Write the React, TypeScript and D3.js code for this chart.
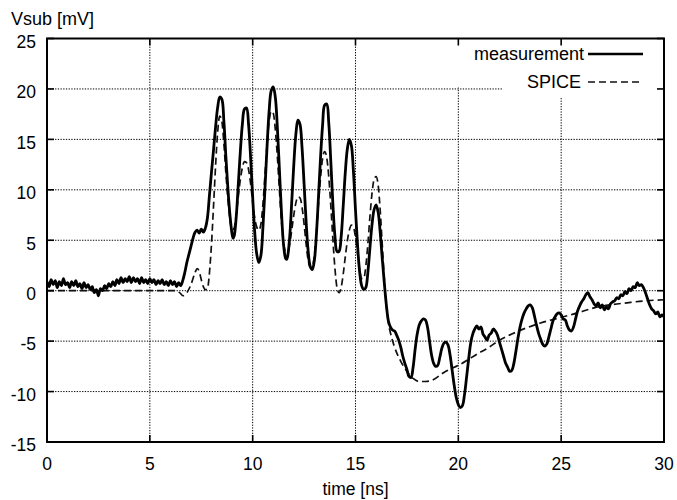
import React from "react";
import * as d3 from "d3";

// measured substrate voltage [time ns, mV]
const measurement: [number, number][] = [
  [0.0, 0.9], [0.1, 0.4], [0.2, 1.1], [0.3, 0.6], [0.4, 1.0], [0.5, 0.3], [0.6, 0.9], [0.7, 0.5], [0.8, 1.2], [0.9, 0.6],
  [1.0, 0.8], [1.1, 0.3], [1.2, 0.9], [1.3, 0.5], [1.4, 1.0], [1.5, 0.4], [1.6, 0.7], [1.7, 0.2], [1.8, 0.8], [1.9, 0.3],
  [2.0, 0.6], [2.1, 0.1], [2.2, 0.4], [2.3, -0.2], [2.4, 0.1], [2.5, -0.5], [2.6, 0.2], [2.7, 0.0], [2.8, 0.5], [2.9, 0.2],
  [3.0, 0.7], [3.1, 0.4], [3.2, 0.9], [3.3, 0.5], [3.4, 1.1], [3.5, 0.7], [3.6, 1.3], [3.7, 0.8], [3.8, 1.2], [3.9, 0.9],
  [4.0, 1.4], [4.1, 0.8], [4.2, 1.3], [4.3, 0.9], [4.4, 1.2], [4.5, 0.7], [4.6, 1.3], [4.7, 0.8], [4.8, 1.1], [4.9, 0.7],
  [5.0, 1.2], [5.1, 0.8], [5.2, 1.1], [5.3, 0.6], [5.4, 1.0], [5.5, 0.7], [5.6, 1.1], [5.7, 0.6], [5.8, 0.9], [5.9, 0.5],
  [6.0, 1.0], [6.1, 0.6], [6.2, 0.9], [6.3, 0.4], [6.4, 0.8], [6.5, 0.5], [6.6, 1.0],
  [6.7, 1.8], [6.8, 2.8], [6.9, 3.6], [7.0, 4.4], [7.1, 5.2], [7.2, 5.8], [7.3, 6.0], [7.4, 5.7], [7.5, 6.1], [7.6, 5.8],
  [7.7, 6.2], [7.8, 7.2], [7.9, 9.5], [8.0, 11.8], [8.1, 14.0], [8.2, 16.3], [8.3, 18.2], [8.4, 19.2], [8.5, 19.0], [8.6, 16.8],
  [8.7, 13.2], [8.8, 10.0], [8.9, 7.4], [9.0, 5.6], [9.05, 5.2], [9.1, 5.4], [9.2, 7.3], [9.3, 10.5], [9.4, 13.8], [9.5, 16.5],
  [9.6, 18.0], [9.7, 18.1], [9.8, 16.5], [9.9, 13.2], [10.0, 9.3], [10.1, 5.8], [10.2, 3.6], [10.3, 2.8], [10.4, 3.5], [10.5, 6.3],
  [10.6, 10.2], [10.7, 14.3], [10.8, 17.8], [10.9, 19.8], [11.0, 20.2], [11.1, 19.2], [11.2, 16.2], [11.3, 12.0], [11.4, 7.8], [11.5, 4.6],
  [11.6, 3.2], [11.65, 3.1], [11.7, 3.4], [11.8, 5.3], [11.9, 8.8], [12.0, 12.5], [12.1, 15.5], [12.2, 16.9], [12.3, 16.5], [12.4, 14.2],
  [12.5, 10.6], [12.6, 6.8], [12.7, 3.9], [12.8, 2.4], [12.9, 2.1], [13.0, 3.0], [13.1, 5.6], [13.2, 9.3], [13.3, 13.2], [13.4, 16.4],
  [13.5, 18.4], [13.6, 18.5], [13.7, 16.6], [13.8, 12.8], [13.9, 8.6], [14.0, 5.4], [14.1, 3.9], [14.2, 3.9], [14.3, 5.3], [14.4, 8.3],
  [14.5, 11.6], [14.6, 14.0], [14.7, 15.0], [14.8, 14.4], [14.9, 11.8], [15.0, 8.0], [15.1, 4.5], [15.2, 1.9], [15.3, 0.5], [15.4, 0.1],
  [15.5, 0.3], [15.6, 1.8], [15.7, 4.2], [15.8, 6.5], [15.9, 8.0], [16.0, 8.5], [16.1, 7.8], [16.2, 5.8], [16.3, 3.2], [16.4, 0.8],
  [16.5, -1.4], [16.6, -3.0], [16.7, -3.6], [16.8, -3.9], [16.9, -4.0], [17.0, -4.4], [17.1, -4.9], [17.2, -5.6], [17.3, -6.5], [17.4, -7.2],
  [17.5, -7.8], [17.6, -8.5], [17.7, -8.6], [17.8, -7.6], [17.9, -5.8], [18.0, -4.3], [18.1, -3.4], [18.2, -3.0], [18.3, -2.8], [18.4, -2.9],
  [18.5, -3.6], [18.6, -5.0], [18.7, -6.4], [18.8, -7.2], [18.9, -7.5], [19.0, -7.4], [19.1, -6.6], [19.2, -5.7], [19.3, -5.2], [19.4, -5.1],
  [19.5, -5.4], [19.6, -6.4], [19.7, -7.9], [19.8, -9.4], [19.9, -10.6], [20.0, -11.3], [20.1, -11.6], [20.2, -11.4], [20.3, -10.3], [20.4, -8.6],
  [20.5, -6.8], [20.6, -5.2], [20.7, -4.3], [20.8, -3.8], [20.9, -3.5], [21.0, -3.8], [21.1, -3.6], [21.2, -4.3], [21.3, -4.6], [21.4, -4.9],
  [21.5, -4.4], [21.6, -4.2], [21.7, -3.8], [21.8, -4.0], [21.9, -4.4], [22.0, -5.1], [22.1, -5.8], [22.2, -6.5], [22.3, -7.2], [22.4, -7.6],
  [22.5, -8.0], [22.6, -7.9], [22.7, -7.2], [22.8, -6.0], [22.9, -4.7], [23.0, -3.6], [23.1, -2.8], [23.2, -2.2], [23.3, -1.8], [23.4, -1.5],
  [23.5, -1.4], [23.6, -1.7], [23.7, -2.5], [23.8, -3.4], [23.9, -4.2], [24.0, -4.8], [24.1, -5.3], [24.2, -5.5], [24.3, -5.3], [24.4, -4.6],
  [24.5, -3.8], [24.6, -3.0], [24.7, -2.6], [24.8, -2.3], [24.9, -2.2], [25.0, -2.4], [25.1, -2.8], [25.2, -2.9], [25.3, -3.5], [25.4, -3.9],
  [25.5, -4.0], [25.6, -3.6], [25.7, -2.8], [25.8, -2.0], [25.9, -1.5], [26.0, -1.1], [26.1, -0.8], [26.2, -0.4], [26.3, -0.2], [26.4, -0.6],
  [26.5, -0.9], [26.6, -1.3], [26.7, -1.5], [26.8, -1.2], [26.9, -1.7], [27.0, -1.4], [27.1, -1.9], [27.2, -1.6], [27.3, -1.8], [27.4, -1.3],
  [27.5, -1.1], [27.6, -1.0], [27.7, -0.7], [27.8, -0.8], [27.9, -0.4], [28.0, -0.5], [28.1, -0.1], [28.2, -0.3], [28.3, 0.2], [28.4, 0.0],
  [28.5, 0.4], [28.6, 0.3], [28.7, 0.8], [28.8, 0.5], [28.9, 0.6], [29.0, 0.3], [29.1, -0.2], [29.2, -0.8], [29.3, -1.4], [29.4, -1.8],
  [29.5, -2.0], [29.6, -2.3], [29.7, -2.1], [29.8, -2.6], [29.9, -2.4], [30.0, -2.6],
];

// SPICE simulation [time ns, mV]
const spice: [number, number][] = [
  [0, 0], [6.3, 0], [6.5, -0.3], [6.6, -0.5], [6.8, -0.2], [7.0, 0.6], [7.2, 1.8], [7.3, 2.2], [7.4, 1.9], [7.5, 1.1],
  [7.6, 0.4], [7.7, 0.1], [7.8, 0.2], [7.9, 1.8], [8.0, 4.7], [8.1, 8.5], [8.2, 12.5], [8.3, 15.8], [8.4, 17.3], [8.5, 16.8],
  [8.6, 14.6], [8.7, 11.6], [8.8, 9.0], [8.9, 7.0], [9.0, 6.0], [9.1, 6.2], [9.2, 7.5], [9.3, 9.3], [9.4, 11.0], [9.5, 12.2],
  [9.6, 12.8], [9.7, 12.7], [9.8, 12.0], [9.9, 10.6], [10.0, 8.8], [10.1, 7.2], [10.2, 6.3], [10.3, 6.0], [10.4, 6.6], [10.5, 8.6],
  [10.6, 11.5], [10.7, 14.5], [10.8, 16.8], [10.9, 17.8], [11.0, 17.6], [11.1, 16.0], [11.2, 13.3], [11.3, 10.0], [11.4, 6.9], [11.5, 4.8],
  [11.6, 3.9], [11.7, 3.9], [11.8, 4.6], [11.9, 6.0], [12.0, 7.5], [12.1, 8.7], [12.2, 9.3], [12.3, 9.2], [12.4, 8.3], [12.5, 6.6],
  [12.6, 4.6], [12.7, 3.0], [12.8, 2.3], [12.9, 2.4], [13.0, 3.5], [13.1, 5.8], [13.2, 8.6], [13.3, 11.2], [13.4, 13.1], [13.5, 13.8],
  [13.6, 13.2], [13.7, 11.3], [13.8, 8.4], [13.9, 5.1], [14.0, 2.2], [14.1, 0.3], [14.2, -0.2], [14.3, 0.3], [14.4, 1.6], [14.5, 3.3],
  [14.6, 4.9], [14.7, 6.0], [14.8, 6.5], [14.9, 6.3], [15.0, 5.3], [15.1, 3.7], [15.2, 2.1], [15.3, 1.2], [15.4, 1.2], [15.5, 2.4],
  [15.6, 4.6], [15.7, 7.3], [15.8, 9.6], [15.9, 11.0], [16.0, 11.3], [16.1, 10.5], [16.2, 8.0], [16.3, 4.6], [16.4, 1.2], [16.5, -1.5],
  [16.6, -3.2], [16.7, -4.2], [16.9, -5.6], [17.2, -7.0], [17.5, -8.0], [17.8, -8.7], [18.1, -9.0], [18.4, -9.0], [18.8, -8.8], [19.3, -8.1],
  [19.8, -7.6], [20.1, -7.3], [20.5, -6.8], [20.9, -6.3], [21.5, -5.6], [22.0, -4.9], [22.6, -4.3], [23.3, -3.7], [24.0, -3.2], [24.9, -2.7],
  [25.8, -2.2], [26.6, -1.7], [27.4, -1.4], [28.2, -1.2], [29.1, -1.0], [30.0, -0.9],
];

const xTicks = [0, 5, 10, 15, 20, 25, 30];
const yTicks = [-15, -10, -5, 0, 5, 10, 15, 20, 25];

const W = 677;
const H = 500;
const left = 47, right = 664, top = 38.5, bottom = 442;
const font = "'Liberation Sans', Arial, Helvetica, sans-serif";

export default function App() {
  const x = d3.scaleLinear().domain([0, 30]).range([left, right]);
  const y = d3.scaleLinear().domain([-15, 25]).range([bottom, top]);

  const measLine = d3.line<[number, number]>()
    .x(d => x(d[0])).y(d => y(d[1]))
    .curve(d3.curveCatmullRom.alpha(0.5));
  const spiceLine = d3.line<[number, number]>()
    .x(d => x(d[0])).y(d => y(d[1]))
    .curve(d3.curveMonotoneX);

  const tk = 7;

  return (
    <svg width={W} height={H} style={{ position: "absolute", left: 0, top: 0, background: "#fff" }}
      fontFamily={font}>
      <defs>
        <clipPath id="plot-clip">
          <rect x={left} y={top} width={right - left} height={bottom - top} />
        </clipPath>
      </defs>

      {/* grid */}
      <g stroke="#000" strokeWidth={1} strokeDasharray="1.3,1.4">
        {xTicks.slice(1, -1).map(t => (
          <line key={"gx" + t} x1={x(t)} x2={x(t)} y1={top} y2={bottom} />
        ))}
        {yTicks.slice(1, -1).map(t => (
          <line key={"gy" + t} x1={left} x2={right} y1={y(t)} y2={y(t)} />
        ))}
      </g>

      {/* key area cleared */}
      <rect x={455} y={top + 1} width={right - 455 - 1} height={48} fill="#fff" />
      <rect x={503} y={top + 1} width={right - 503 - 1} height={58} fill="#fff" />

      {/* curves */}
      <g clipPath="url(#plot-clip)" fill="none">
        <path d={spiceLine(spice) ?? ""} stroke="#111" strokeWidth={1.7} strokeDasharray="7,4" />
        <path d={measLine(measurement) ?? ""} stroke="#000" strokeWidth={2.8} strokeLinejoin="round" />
      </g>

      {/* frame */}
      <rect x={left} y={top} width={right - left} height={bottom - top} fill="none" stroke="#000" strokeWidth={2} />
      <g stroke="#000" strokeWidth={1.6}>
        {xTicks.map(t => (
          <g key={"tx" + t}>
            <line x1={x(t)} x2={x(t)} y1={bottom} y2={bottom - tk} />
            <line x1={x(t)} x2={x(t)} y1={top} y2={top + tk} />
          </g>
        ))}
        {yTicks.map(t => (
          <g key={"ty" + t}>
            <line x1={left} x2={left + tk} y1={y(t)} y2={y(t)} />
            <line x1={right} x2={right - tk} y1={y(t)} y2={y(t)} />
          </g>
        ))}
      </g>

      {/* tick labels */}
      <g fontSize={17.5} fill="#000">
        {yTicks.map(t => (
          <text key={"ly" + t} x={36} y={y(t) + 3} dy="0.36em" textAnchor="end">{t}</text>
        ))}
        {xTicks.map(t => (
          <text key={"lx" + t} x={x(t)} y={470} textAnchor="middle">{t}</text>
        ))}
      </g>

      {/* axis titles */}
      <text x={11} y={25} fontSize={18}>Vsub [mV]</text>
      <text x={(left + right) / 2} y={495} fontSize={17.5} textAnchor="middle">time [ns]</text>

      {/* legend */}
      <g fontSize={18}>
        <text x={584} y={60} textAnchor="end">measurement</text>
        <line x1={588} x2={643} y1={54} y2={54} stroke="#000" strokeWidth={2.6} />
        <text x={581} y={88} textAnchor="end">SPICE</text>
        <line x1={588} x2={643} y1={82} y2={82} stroke="#111" strokeWidth={1.7} strokeDasharray="7,4" />
      </g>
    </svg>
  );
}
